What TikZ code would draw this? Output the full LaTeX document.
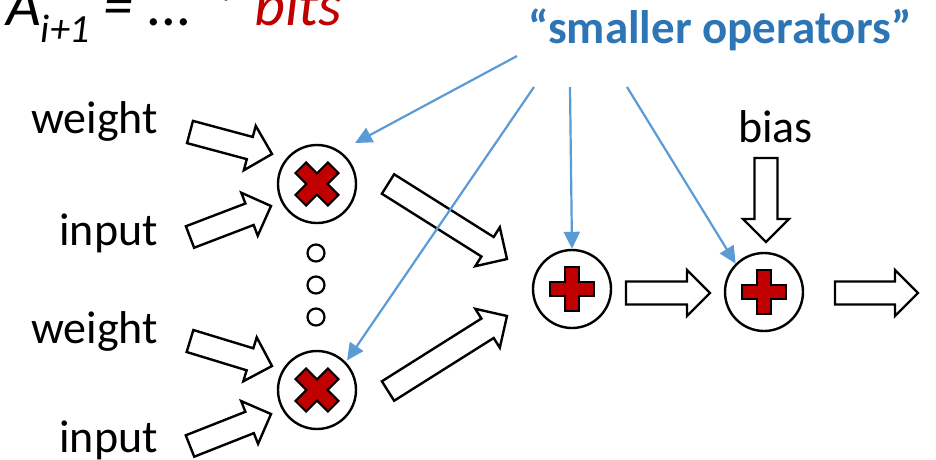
\documentclass[tikz,border=0pt]{standalone}
\usepackage{fontspec}
\setmainfont{Carlito}
\usetikzlibrary{calc,arrows.meta}
\definecolor{opred}{HTML}{C00000}
\definecolor{opblue}{HTML}{2E75B6}
\definecolor{linkblue}{HTML}{5B9BD5}

% hollow block arrow from the tail point #1 to the tip point #2
\newcommand{\fatarrow}[2]{%
  \coordinate (fa-n) at ($(#2)!23pt!(#1)$);
  \draw[fatbody] ($(#1)!11.5pt!90:(#2)$) -- ($(fa-n)!11.5pt!-90:(#1)$)
    -- ($(fa-n)!23pt!-90:(#1)$) -- (#2) -- ($(fa-n)!23pt!90:(#1)$)
    -- ($(fa-n)!11.5pt!90:(#1)$) -- ($(#1)!11.5pt!-90:(#2)$) -- cycle;}

\tikzset{
  plusglyph/.pic={
    \draw[glyph] (-7,-22) -- (7,-22) -- (7,-7) -- (22,-7) -- (22,7) -- (7,7)
      -- (7,22) -- (-7,22) -- (-7,7) -- (-22,7) -- (-22,-7) -- (-7,-7) -- cycle;},
  timesglyph/.pic={
    \begin{scope}[rotate=45]
    \draw[glyph] (-7.5,-23) -- (7.5,-23) -- (7.5,-7.5) -- (23,-7.5) -- (23,7.5)
      -- (7.5,7.5) -- (7.5,23) -- (-7.5,23) -- (-7.5,7.5) -- (-23,7.5)
      -- (-23,-7.5) -- (-7.5,-7.5) -- cycle;
    \end{scope}}
}

\begin{document}
\begin{tikzpicture}[x=1pt,y=-1pt,
  lbl/.style={inner sep=0pt, font=\fontsize{46}{46}\selectfont},
  opnode/.style={circle, draw, line width=2.4pt, minimum size=78pt, inner sep=0pt},
  dotnode/.style={circle, draw, line width=2.2pt, minimum size=17pt, inner sep=0pt},
  fatbody/.style={draw, fill=white, line width=2.4pt, line join=miter},
  link/.style={draw=linkblue, line width=2.2pt, -{Triangle[length=17pt,width=16pt]}},
  glyph/.style={fill=opred, draw=black, line width=2pt, line join=miter}
]
\useasboundingbox (0,0) rectangle (936,459);

% formula heading
\node[anchor=base west, inner sep=0pt, font=\fontsize{60}{60}\selectfont\itshape] (eq) at (6,25)
  {A\raisebox{-17pt}{\fontsize{40}{40}\selectfont i+1} = ... * \textcolor{opred}{bits}};

% operator circles
\node[opnode] (m1) at (317,184) {};
\node[opnode] (m2) at (317,390) {};
\node[opnode] (p1) at (572,289) {};
\node[opnode] (p2) at (764,292) {};
\pic at (m1) {timesglyph};
\pic at (m2) {timesglyph};
\pic at (p1) {plusglyph};
\pic at (p2) {plusglyph};

% vertical ellipsis between the multipliers
\node[dotnode] (d1) at (316,253) {};
\node[dotnode] (d2) at (316,285) {};
\node[dotnode] (d3) at (316,317) {};

% operand labels
\node[lbl, anchor=base east] (w1) at (158,133) {weight};
\node[lbl, anchor=base east] (i1) at (158,245) {input};
\node[lbl, anchor=base east] (w2) at (158,343) {weight};
\node[lbl, anchor=base east] (i2) at (158,452) {input};
\node[lbl, anchor=base] (bias) at (775.5,142) {bias};

% block arrow end points
\coordinate (w1a) at (190,132); \coordinate (w1b) at (272,154);
\coordinate (i1a) at (190,237); \coordinate (i1b) at (271,206);
\coordinate (w2a) at (190,341); \coordinate (w2b) at (272,366);
\coordinate (i2a) at (190,446); \coordinate (i2b) at (271,414);
\coordinate (m1a) at (388,184); \coordinate (m1b) at (507,259);
\coordinate (m2a) at (388,391); \coordinate (m2b) at (507,316);
\coordinate (p1a) at (626,293); \coordinate (p1b) at (710,293);
\coordinate (ba)  at (766,158); \coordinate (bb)  at (766,242);
\coordinate (oa)  at (835,293); \coordinate (ob)  at (918,293);

\fatarrow{w1a}{w1b}
\fatarrow{i1a}{i1b}
\fatarrow{w2a}{w2b}
\fatarrow{i2a}{i2b}
\fatarrow{m1a}{m1b}
\fatarrow{m2a}{m2b}
\fatarrow{p1a}{p1b}
\fatarrow{ba}{bb}
\fatarrow{oa}{ob}

% annotation and its pointers
\node[inner sep=0pt, anchor=base, text=opblue, font=\fontsize{47}{47}\selectfont\bfseries]
  (ops) at (720,43) {“smaller operators”};
\coordinate (s1) at (517,56);
\coordinate (s2) at (534,87);
\coordinate (s3) at (570,87);
\coordinate (s4) at (627,87);
\draw[link, shorten >=17pt] (s1) -- (m1.55);
\draw[link, shorten >=2pt] (s2) -- (m2.44);
\draw[link] (s3) -- (p1.north);
\draw[link] (s4) -- (p2.135);
\end{tikzpicture}
\end{document}
